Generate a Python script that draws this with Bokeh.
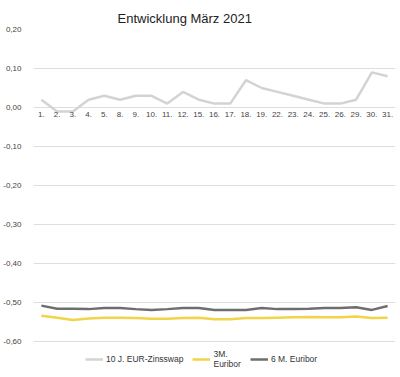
from bokeh.plotting import figure
from bokeh.models import ColumnDataSource, CustomJSTickFormatter, FixedTicker, Legend, LegendItem, Range1d
from bokeh.core.properties import value
from bokeh.embed import file_html
from bokeh.resources import INLINE

days = ["1.", "2.", "3.", "4.", "5.", "8.", "9.", "10.", "11.", "12.", "15.", "16.", "17.",
        "18.", "19.", "22.", "23.", "24.", "25.", "26.", "29.", "30.", "31."]
swap10 = [0.02, -0.01, -0.01, 0.02, 0.03, 0.02, 0.03, 0.03, 0.01, 0.04, 0.02, 0.01, 0.01,
          0.07, 0.05, 0.04, 0.03, 0.02, 0.01, 0.01, 0.02, 0.09, 0.08]
euribor3m = [-0.534, -0.539, -0.545, -0.541, -0.539, -0.539, -0.540, -0.542, -0.542, -0.540,
             -0.539, -0.543, -0.543, -0.540, -0.540, -0.539, -0.538, -0.537, -0.538, -0.538,
             -0.536, -0.540, -0.539]
euribor6m = [-0.508, -0.516, -0.516, -0.517, -0.514, -0.514, -0.517, -0.519, -0.517, -0.514,
             -0.514, -0.519, -0.519, -0.519, -0.514, -0.517, -0.517, -0.516, -0.514, -0.514,
             -0.512, -0.519, -0.509]
y_ticks = [-0.6, -0.5, -0.4, -0.3, -0.2, -0.1, 0.0, 0.1, 0.2]
labels = ["10 J. EUR-Zinsswap", "3M.\nEuribor", "6 M. Euribor"]
colors = ["#d3d3d3", "#f2d34a", "#6e6e6e"]

FONT = "Liberation Sans"

src = ColumnDataSource(dict(day=days, swap=swap10, e3=euribor3m, e6=euribor6m,
                            zero=[0.0] * len(days)))

p = figure(width=400, height=377, x_range=days, y_range=Range1d(-0.6872, 0.2),
           output_backend="svg", toolbar_location=None,
           min_border_left=28, min_border_right=5, min_border_top=29, min_border_bottom=2)
p.outline_line_color = None
p.background_fill_color = "white"

p.title.text = "Entwicklung März 2021"
p.title.text_font = FONT
p.title.text_font_size = "13px"
p.title.text_font_style = "normal"
p.title.text_color = "#222222"
p.title.align = "left"
p.title.offset = 84
p.title.standoff = 7

r1 = p.line("day", "swap", source=src, color=colors[0], line_width=2.5)
r2 = p.line("day", "e3", source=src, color=colors[1], line_width=2.5)
r3 = p.line("day", "e6", source=src, color=colors[2], line_width=2.5)

# category labels along the zero line
p.text("day", "zero", text="day", source=src, text_font=value(FONT), text_font_size="8px",
       text_color="#444444", text_align="center", text_baseline="top", y_offset=5)

p.xaxis.visible = False
p.xgrid.grid_line_color = None
p.ygrid.grid_line_color = "#dedede"
p.ygrid.grid_line_width = 1

p.yaxis.ticker = FixedTicker(ticks=y_ticks)
p.yaxis.formatter = CustomJSTickFormatter(code="return tick.toFixed(2).replace('.', ',');")
p.yaxis.axis_line_color = None
p.yaxis.major_tick_line_color = None
p.yaxis.minor_tick_line_color = None
p.yaxis.major_label_text_font = FONT
p.yaxis.major_label_text_font_size = "8px"
p.yaxis.major_label_text_color = "#444444"
p.yaxis.major_label_standoff = 6

legend = Legend(items=[LegendItem(label=labels[0], renderers=[r1]),
                       LegendItem(label=labels[1], renderers=[r2]),
                       LegendItem(label=labels[2], renderers=[r3])],
                orientation="horizontal", location=(52, 6),
                label_text_font=FONT, label_text_font_size="8.5px", label_text_color="#333333",
                glyph_width=18, glyph_height=10, label_standoff=3, spacing=9,
                padding=2, margin=0, border_line_color=None, background_fill_alpha=0)
p.add_layout(legend, "center")

open("out.html", "w").write(file_html(p, INLINE))
